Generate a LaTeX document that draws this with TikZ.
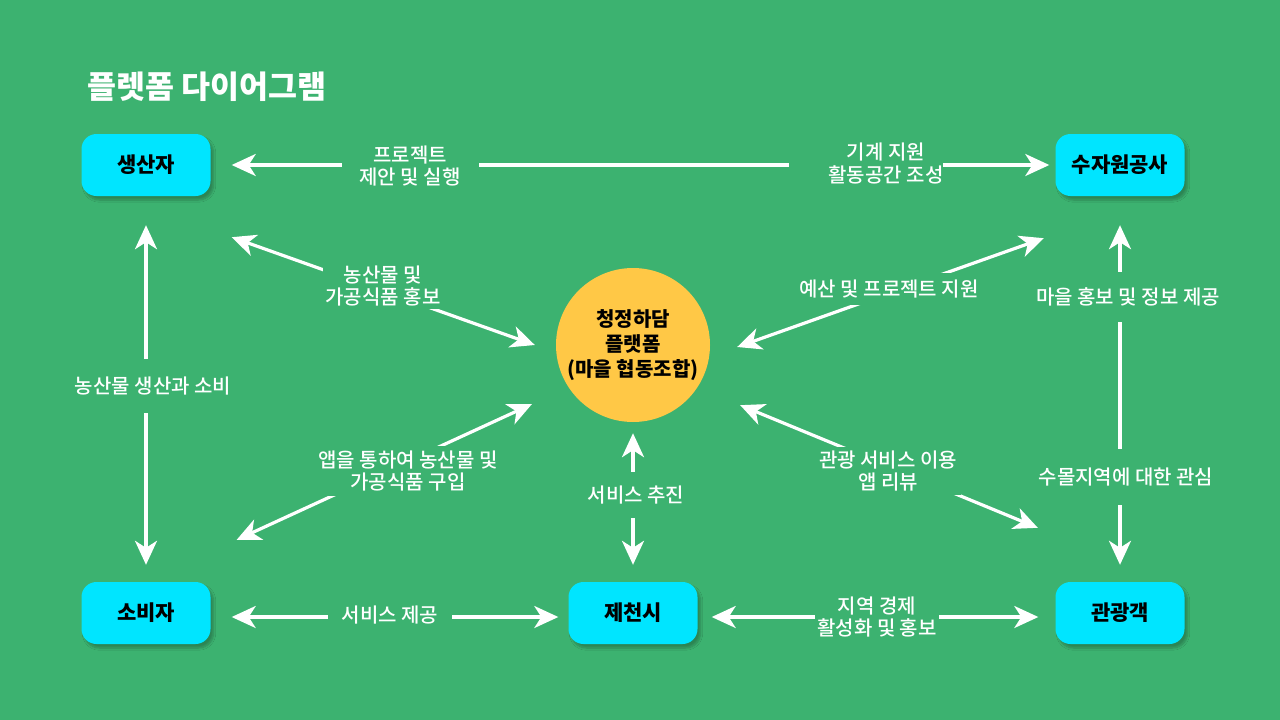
\documentclass[tikz,border=0pt]{standalone}
\usepackage{fontspec}
\setmainfont{Noto Sans CJK KR}
\newfontfamily\medkr{Noto Sans CJK KR Medium}
\usetikzlibrary{arrows.meta,shadows.blur}
\definecolor{bg}{RGB}{60,178,112}
\definecolor{boxc}{RGB}{0,229,255}
\definecolor{sun}{RGB}{255,200,70}
\tikzset{
  box/.style={rectangle, rounded corners=15pt, minimum width=129pt, minimum height=62pt,
    fill=boxc, text=black, font=\fontsize{21}{24}\selectfont\bfseries,
    blur shadow={shadow xshift=3pt, shadow yshift=-4pt, shadow opacity=25, shadow blur steps=8}},
  hub/.style={circle, minimum size=154pt, inner sep=0pt, fill=sun, text=black, align=center,
    font=\fontsize{20}{25}\selectfont\bfseries},
  tipx/.tip={Stealth[length=24pt,width=22pt,inset=7pt]},
  con/.style={draw=white, line width=3.2pt, tipx-tipx},
  lbl/.style={fill=bg, text=white, align=center, font=\medkr\fontsize{20}{22.5}\selectfont, inner sep=4pt},
}
\begin{document}
\begin{tikzpicture}[x=1pt,y=-1pt]
\fill[bg] (0,0) rectangle (1280,720);
\useasboundingbox (0,0) rectangle (1280,720);

\node[anchor=west, text=white, inner sep=0pt, font=\fontsize{31.5}{36}\selectfont\bfseries] (title) at (87,87) {플렛폼 다이어그램};

\node[box] (P) at (146,165) {생산자};
\node[box] (W) at (1120,165) {수자원공사};
\node[box] (C) at (146,613) {소비자};
\node[box] (J) at (633,613) {제천시};
\node[box] (T) at (1120,613) {관광객};
\node[hub] (H) at (633,345) {청정하담\\플랫폼\\(마을 협동조합)};

% connectors
\draw[con] ([xshift=21pt]P.east) -- ([xshift=-6pt]W.west);
\draw[con] ([yshift=-29pt]P.south) -- ([yshift=17pt]C.north);
\draw[con] ([yshift=-29pt]W.south) -- ([yshift=17pt]T.north);
\draw[con] ([yshift=-11pt]H.south) -- ([yshift=17pt]J.north);
\draw[con] ([shift={(21pt,-4pt)}]C.east) -- ([shift={(-10pt,-4pt)}]J.west);
\draw[con] ([shift={(14pt,-4pt)}]J.east) -- ([shift={(-17pt,-4pt)}]T.west);
\draw[con] ([shift={(21pt,-41pt)}]P.south east) -- ([xshift=-21pt]H.west);
\draw[con] ([shift={(26pt,42pt)}]C.north east) -- ([shift={(-46.6pt,-4.6pt)}]H.south west);
\draw[con] ([shift={(27pt,-2pt)}]H.east) -- ([shift={(-11.5pt,-42pt)}]W.south west);
\draw[con] ([shift={(52.6pt,-5.6pt)}]H.south east) -- ([shift={(-17.5pt,54pt)}]T.north west);

% labels
\node[lbl, inner xsep=18pt] (l1) at (410,166) {프로젝트\\제안 및 실행};
\node[lbl, inner xsep=0pt] (l2) at (866,166) {\hspace*{40pt}\begin{tabular}{@{}c@{}}기계 지원\\활동공간 조성\end{tabular}};
\node[lbl, inner sep=3pt] (l3) at (383,286) {농산물 및\\가공식품 홍보};
\node[lbl, inner sep=5pt] (l4) at (408,471) {앱을 통하여 농산물 및\\가공식품 구입};
\node[lbl, inner xsep=2pt, inner ysep=18pt] (l5) at (153,386) {농산물 생산과 소비};
\node[lbl, inner xsep=2pt, inner ysep=14pt] (l6) at (636,495) {서비스 추진};
\node[lbl, inner xsep=14pt] (l7) at (390,615) {서비스 제공};
\node[lbl, inner xsep=2pt] (l8) at (877,617) {지역 경제\\활성화 및 홍보};
\node[lbl, inner sep=7pt] (l9) at (889,289) {예산 및 프로젝트 지원};
\node[lbl, inner sep=4pt] (l10) at (888,471) {관광 서비스 이용\\앱 리뷰};
\node[lbl, inner xsep=2pt, inner ysep=16pt] (l11) at (1128,297) {마을 홍보 및 정보 제공};
\node[lbl, inner xsep=2pt, inner ysep=19pt] (l12) at (1126,477) {수몰지역에 대한 관심};
\end{tikzpicture}
\end{document}
